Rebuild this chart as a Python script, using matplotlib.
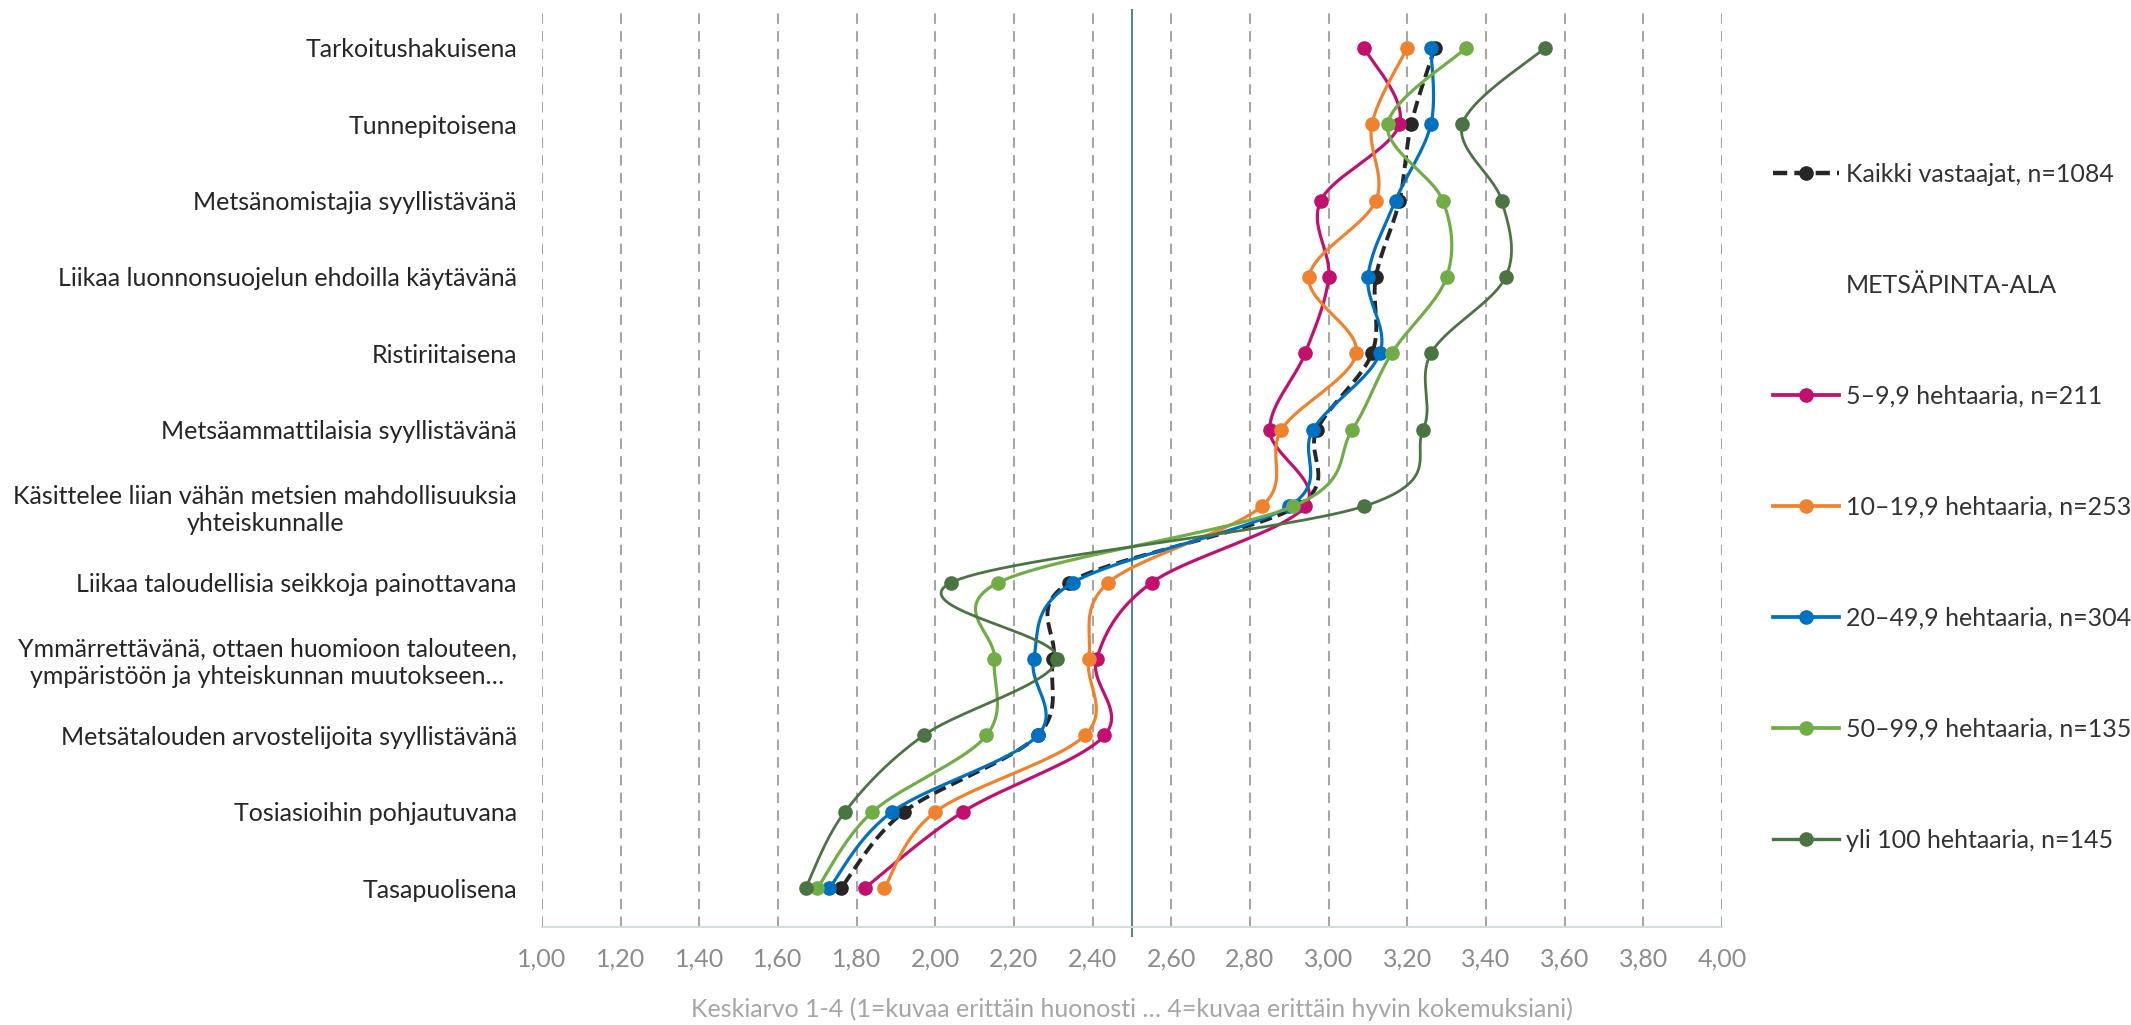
"""Mean scores 1-4 by forest area, smoothed line chart"""

import matplotlib
matplotlib.use("Agg")
import matplotlib.pyplot as plt
from matplotlib.lines import Line2D
from matplotlib.ticker import FuncFormatter, MultipleLocator
import numpy as np


# categories from top to bottom
categories = [
    "Tarkoitushakuisena",
    "Tunnepitoisena",
    "Metsänomistajia syyllistävänä",
    "Liikaa luonnonsuojelun ehdoilla käytävänä",
    "Ristiriitaisena",
    "Metsäammattilaisia syyllistävänä",
    "Käsittelee liian vähän metsien mahdollisuuksia\nyhteiskunnalle",
    "Liikaa taloudellisia seikkoja painottavana",
    "Ymmärrettävänä, ottaen huomioon talouteen,\nympäristöön ja yhteiskunnan muutokseen…",
    "Metsätalouden arvostelijoita syyllistävänä",
    "Tosiasioihin pohjautuvana",
    "Tasapuolisena",
]

# mean values per group, same order as categories
kaikki = [3.27, 3.21, 3.18, 3.12, 3.11, 2.97, 2.92, 2.34, 2.30, 2.26, 1.92, 1.76]
ha_5 = [3.09, 3.18, 2.98, 3.00, 2.94, 2.85, 2.94, 2.55, 2.41, 2.43, 2.07, 1.82]
ha_10 = [3.20, 3.11, 3.12, 2.95, 3.07, 2.88, 2.83, 2.44, 2.39, 2.38, 2.00, 1.87]
ha_20 = [3.26, 3.26, 3.17, 3.10, 3.13, 2.96, 2.90, 2.35, 2.25, 2.26, 1.89, 1.73]
ha_50 = [3.35, 3.15, 3.29, 3.30, 3.16, 3.06, 2.91, 2.16, 2.15, 2.13, 1.84, 1.70]
ha_100 = [3.55, 3.34, 3.44, 3.45, 3.26, 3.24, 3.09, 2.04, 2.31, 1.97, 1.77, 1.67]

labels = [
    "Kaikki vastaajat, n=1084",
    "5–9,9 hehtaaria, n=211",
    "10–19,9 hehtaaria, n=253",
    "20–49,9 hehtaaria, n=304",
    "50–99,9 hehtaaria, n=135",
    "yli 100 hehtaaria, n=145",
]
legend_title = "METSÄPINTA-ALA"
x_label = "Keskiarvo 1-4 (1=kuvaa erittäin huonosti … 4=kuvaa erittäin hyvin kokemuksiani)"

colors = ["#262626", "#C2106F", "#F0822E", "#0070C0", "#70AD47", "#4B7443"]
widths = [2.8, 2.3, 2.3, 2.3, 2.3, 2.0]


def smooth(xs, ys, n=40):
    # catmull-rom style bezier through the points, like excel's smoothed line
    pts = np.column_stack([xs, ys]).astype(float)
    p = np.vstack([pts[0], pts, pts[-1]])
    t = np.linspace(0, 1, n)[:, None]
    out = []
    for i in range(len(pts) - 1):
        p0, p1, p2, p3 = p[i], p[i + 1], p[i + 2], p[i + 3]
        c1 = p1 + (p2 - p0) / 6
        c2 = p2 - (p3 - p1) / 6
        seg = ((1 - t) ** 3) * p1 + 3 * ((1 - t) ** 2) * t * c1 + 3 * (1 - t) * t ** 2 * c2 + t ** 3 * p2
        out.append(seg if i == 0 else seg[1:])
    out = np.vstack(out)
    return out[:, 0], out[:, 1]


plt.rcParams["font.family"] = ["Lato", "DejaVu Sans"]

fig = plt.figure(figsize=(21.31, 10.25), dpi=100)
ax = fig.add_axes([542 / 2131, 1 - 926.5 / 1025, 1180 / 2131, 917 / 1025])

ypos = np.arange(len(categories))
series = [kaikki, ha_5, ha_10, ha_20, ha_50, ha_100]

handles = []
for i, vals in enumerate(series):
    sx, sy = smooth(vals, ypos)
    ls = (0, (3.2, 1.6)) if i == 0 else "-"
    ax.plot(sx, sy, color=colors[i], lw=widths[i], linestyle=ls, zorder=3 + i,
            solid_capstyle="round", dash_capstyle="butt")
    ax.plot(vals, ypos, linestyle="none", marker="o", markersize=9.5,
            color=colors[i], zorder=3 + i)
    handles.append(Line2D([], [], color=colors[i], lw=widths[i] + 0.4, linestyle=ls,
                          marker="o", markersize=9.5))

# reference line at the middle of the scale
ax.axvline(2.5, ymin=-0.01, ymax=1, color="#5A8591", lw=1.5, zorder=2, clip_on=False)

ax.set_xlim(1.0, 4.0)
ax.set_ylim(len(categories) - 0.5, -0.5)
ax.xaxis.set_major_locator(MultipleLocator(0.2))
ax.xaxis.set_major_formatter(FuncFormatter(lambda v, _: f"{v:.2f}".replace(".", ",")))
ax.grid(axis="x", color="#A6A6A6", lw=1.5, linestyle=(0, (5, 3.5)), zorder=1)
ax.grid(axis="y", visible=False)

ax.set_yticks(ypos)
ax.set_yticklabels(categories, fontsize=18, color="#262626", multialignment="center")
ax.tick_params(axis="y", length=0, pad=18)
ax.tick_params(axis="x", length=0, pad=15.5, labelsize=18, labelcolor="#8C8C8C")

for side in ["top", "left", "right"]:
    ax.spines[side].set_visible(False)
ax.spines["bottom"].set_color("#D3DDE0")
ax.spines["bottom"].set_linewidth(1.5)

ax.set_xlabel(x_label, fontsize=18, color="#A6A6A6", labelpad=19)

# legend with a text-only entry for the group heading
title_handle = Line2D([], [], color="none")
leg_handles = [handles[0], title_handle] + handles[1:]
leg_labels = [labels[0], legend_title] + labels[1:]
fig.legend(leg_handles, leg_labels, loc="upper left",
           bbox_to_anchor=(1773 / 2131, 1 - 163 / 1025), frameon=False,
           fontsize=18, labelcolor="#333333", handlelength=2.65, handletextpad=0.28,
           labelspacing=3.52, borderpad=0, borderaxespad=0)

fig.savefig("out.png", dpi=100)
